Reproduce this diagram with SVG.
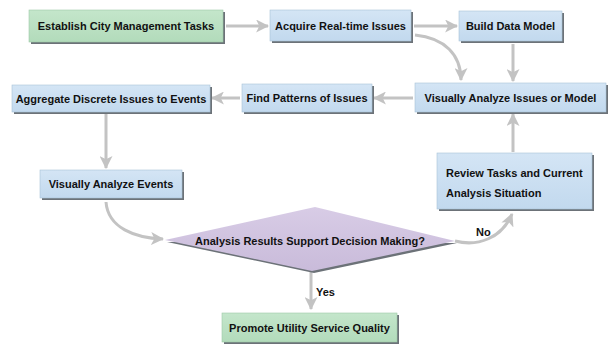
<svg xmlns="http://www.w3.org/2000/svg" width="614" height="345" viewBox="0 0 614 345">
  <style>
    .lbl { font-family: "Liberation Sans", Arial, sans-serif; font-size: 11px; font-weight: bold; fill: #111; }
    .mid { text-anchor: middle; }
    .shadow { fill: #6c7278; }
    .blue { fill: url(#gBlue); stroke: #a9c2d8; stroke-width: 0.6; }
    .green { fill: url(#gGreen); stroke: #9fc9a8; stroke-width: 0.6; }
    .conn { fill: none; stroke: #c3c3c3; stroke-width: 3; marker-end: url(#head); }
  </style>
  <defs>
    <linearGradient id="gBlue" x1="0" y1="0" x2="0" y2="1">
      <stop offset="0" stop-color="#d4e5f5"/>
      <stop offset="1" stop-color="#c2d9ee"/>
    </linearGradient>
    <linearGradient id="gGreen" x1="0" y1="0" x2="0" y2="1">
      <stop offset="0" stop-color="#c4e6cb"/>
      <stop offset="1" stop-color="#b2dbbb"/>
    </linearGradient>
    <linearGradient id="gPurple" x1="0" y1="0" x2="0" y2="1">
      <stop offset="0" stop-color="#d8cce6"/>
      <stop offset="1" stop-color="#c9bbda"/>
    </linearGradient>
    <marker id="head" markerUnits="userSpaceOnUse" viewBox="0 0 12 12" refX="11" refY="6" markerWidth="13" markerHeight="13" orient="auto">
      <path d="M0,0 L12,6 L0,12 L3,6 z" fill="#c3c3c3"/>
    </marker>
  </defs>

  <!-- connectors -->
  <g id="connectors">
    <path class="conn" d="M226,26 L268,26"/>
    <path class="conn" d="M414,26 L457,26"/>
    <path class="conn" d="M415,35 C445,38 461,55 461,80"/>
    <path class="conn" d="M513,44 L513,81"/>
    <path class="conn" d="M413,98 L374,98"/>
    <path class="conn" d="M240,98 L212,98"/>
    <path class="conn" d="M106,114 L106,168"/>
    <path class="conn" d="M106,202 C108,228 135,238 163,239"/>
    <path class="conn" d="M455,241 C478,247 502,238 512,214"/>
    <path class="conn" d="M513,152 L513,114"/>
    <path class="conn" d="M311,272 L311,309"/>
    <text class="lbl" x="476" y="236">No</text>
    <text class="lbl" x="316" y="296">Yes</text>
  </g>

  <g id="establish">
    <rect class="shadow" x="31" y="12" width="194" height="32"/>
    <rect class="green" x="29" y="10" width="194" height="32"/>
    <text class="lbl mid" x="126" y="30">Establish City Management Tasks</text>
  </g>

  <g id="acquire">
    <rect class="shadow" x="272" y="12" width="141" height="31"/>
    <rect class="blue" x="270" y="10" width="141" height="31"/>
    <text class="lbl mid" x="340.5" y="29.5">Acquire Real-time Issues</text>
  </g>

  <g id="build">
    <rect class="shadow" x="461" y="13" width="103" height="30"/>
    <rect class="blue" x="459" y="11" width="103" height="30"/>
    <text class="lbl mid" x="510.5" y="30">Build Data Model</text>
  </g>

  <g id="analyze-issues">
    <rect class="shadow" x="417" y="85" width="191" height="29"/>
    <rect class="blue" x="415" y="83" width="191" height="29"/>
    <text class="lbl mid" x="510.5" y="101.5">Visually Analyze Issues or Model</text>
  </g>

  <g id="patterns">
    <rect class="shadow" x="244" y="86" width="130" height="28"/>
    <rect class="blue" x="242" y="84" width="130" height="28"/>
    <text class="lbl mid" x="307" y="102">Find Patterns of Issues</text>
  </g>

  <g id="aggregate">
    <rect class="shadow" x="14" y="87" width="198" height="27"/>
    <rect class="blue" x="12" y="85" width="198" height="27"/>
    <text class="lbl mid" x="111" y="102.5">Aggregate Discrete Issues to Events</text>
  </g>

  <g id="analyze-events">
    <rect class="shadow" x="42" y="172" width="142" height="28"/>
    <rect class="blue" x="40" y="170" width="142" height="28"/>
    <text class="lbl mid" x="111" y="188">Visually Analyze Events</text>
  </g>

  <g id="review">
    <rect class="shadow" x="439" y="155" width="155" height="56"/>
    <rect class="blue" x="437" y="153" width="155" height="56"/>
    <text class="lbl" x="446" y="177">Review Tasks and Current</text>
    <text class="lbl" x="446" y="197">Analysis Situation</text>
  </g>

  <g id="decision">
    <polygon points="167,242 314,273 457,243" fill="#6c7278"/>
    <polygon points="165,240 315,207 455,241 312,271" fill="url(#gPurple)"/>
    <text class="lbl mid" x="310" y="245">Analysis Results Support Decision Making?</text>
  </g>

  <g id="promote">
    <rect class="shadow" x="224" y="315" width="175" height="29"/>
    <rect class="green" x="222" y="313" width="175" height="29"/>
    <text class="lbl mid" x="309.5" y="331.5">Promote Utility Service Quality</text>
  </g>
</svg>
